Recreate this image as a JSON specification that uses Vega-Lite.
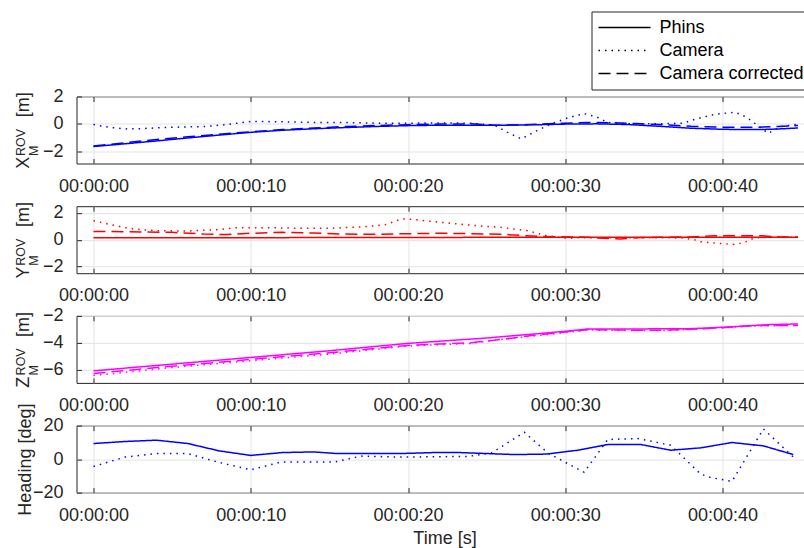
{
  "$schema": "https://vega.github.io/schema/vega-lite/v6.json",
  "background": "white",
  "padding": {"left": 13.5, "top": 10.5, "right": 0, "bottom": 0},
  "bounds": "flush",
  "spacing": 42.7,
  "datasets": {
    "px": [
      {"t": 0, "v": -1.66, "s": "Phins"}, {"t": 2, "v": -1.46, "s": "Phins"}, {"t": 4, "v": -1.25, "s": "Phins"}, {"t": 6, "v": -1.03, "s": "Phins"}, {"t": 8, "v": -0.82, "s": "Phins"}, {"t": 10, "v": -0.62, "s": "Phins"}, {"t": 12, "v": -0.47, "s": "Phins"}, {"t": 14, "v": -0.36, "s": "Phins"}, {"t": 16, "v": -0.27, "s": "Phins"}, {"t": 18, "v": -0.19, "s": "Phins"}, {"t": 20, "v": -0.13, "s": "Phins"}, {"t": 22, "v": -0.1, "s": "Phins"}, {"t": 24, "v": -0.1, "s": "Phins"}, {"t": 26, "v": -0.1, "s": "Phins"}, {"t": 28, "v": -0.07, "s": "Phins"}, {"t": 30, "v": -0.02, "s": "Phins"}, {"t": 32, "v": 0.0, "s": "Phins"}, {"t": 34, "v": -0.05, "s": "Phins"}, {"t": 36, "v": -0.18, "s": "Phins"}, {"t": 38, "v": -0.32, "s": "Phins"}, {"t": 40, "v": -0.4, "s": "Phins"}, {"t": 42, "v": -0.42, "s": "Phins"}, {"t": 43, "v": -0.4, "s": "Phins"}, {"t": 44, "v": -0.35, "s": "Phins"}, {"t": 44.8, "v": -0.3, "s": "Phins"},
      {"t": 0, "v": -0.05, "s": "Camera"}, {"t": 1, "v": -0.25, "s": "Camera"}, {"t": 2, "v": -0.37, "s": "Camera"}, {"t": 3, "v": -0.35, "s": "Camera"}, {"t": 5, "v": -0.25, "s": "Camera"}, {"t": 7, "v": -0.2, "s": "Camera"}, {"t": 8.5, "v": -0.05, "s": "Camera"}, {"t": 10, "v": 0.18, "s": "Camera"}, {"t": 12, "v": 0.15, "s": "Camera"}, {"t": 14, "v": 0.1, "s": "Camera"}, {"t": 16, "v": 0.1, "s": "Camera"}, {"t": 18, "v": 0.05, "s": "Camera"}, {"t": 20, "v": 0.05, "s": "Camera"}, {"t": 22, "v": 0.06, "s": "Camera"}, {"t": 24, "v": 0.05, "s": "Camera"}, {"t": 25.5, "v": -0.1, "s": "Camera"}, {"t": 26.3, "v": -0.6, "s": "Camera"}, {"t": 27.2, "v": -1.1, "s": "Camera"}, {"t": 28.2, "v": -0.5, "s": "Camera"}, {"t": 29.1, "v": 0.0, "s": "Camera"}, {"t": 30.2, "v": 0.45, "s": "Camera"}, {"t": 31.2, "v": 0.75, "s": "Camera"}, {"t": 32, "v": 0.5, "s": "Camera"}, {"t": 32.7, "v": 0.1, "s": "Camera"}, {"t": 34, "v": 0.0, "s": "Camera"}, {"t": 36, "v": 0.0, "s": "Camera"}, {"t": 37.5, "v": 0.05, "s": "Camera"}, {"t": 38.3, "v": 0.35, "s": "Camera"}, {"t": 39.5, "v": 0.7, "s": "Camera"}, {"t": 40.8, "v": 0.85, "s": "Camera"}, {"t": 41.5, "v": 0.5, "s": "Camera"}, {"t": 42.1, "v": 0.0, "s": "Camera"}, {"t": 42.9, "v": -0.7, "s": "Camera"}, {"t": 43.7, "v": -0.2, "s": "Camera"}, {"t": 44.7, "v": -0.05, "s": "Camera"},
      {"t": 0, "v": -1.62, "s": "Camera corrected"}, {"t": 2, "v": -1.38, "s": "Camera corrected"}, {"t": 4, "v": -1.15, "s": "Camera corrected"}, {"t": 6, "v": -0.95, "s": "Camera corrected"}, {"t": 8, "v": -0.76, "s": "Camera corrected"}, {"t": 10, "v": -0.58, "s": "Camera corrected"}, {"t": 12, "v": -0.42, "s": "Camera corrected"}, {"t": 14, "v": -0.3, "s": "Camera corrected"}, {"t": 16, "v": -0.2, "s": "Camera corrected"}, {"t": 18, "v": -0.12, "s": "Camera corrected"}, {"t": 20, "v": -0.06, "s": "Camera corrected"}, {"t": 22, "v": -0.02, "s": "Camera corrected"}, {"t": 24, "v": 0.0, "s": "Camera corrected"}, {"t": 25.5, "v": -0.1, "s": "Camera corrected"}, {"t": 27, "v": -0.08, "s": "Camera corrected"}, {"t": 28.5, "v": -0.02, "s": "Camera corrected"}, {"t": 30, "v": 0.05, "s": "Camera corrected"}, {"t": 31.5, "v": 0.1, "s": "Camera corrected"}, {"t": 33, "v": 0.08, "s": "Camera corrected"}, {"t": 34.5, "v": 0.02, "s": "Camera corrected"}, {"t": 36, "v": -0.05, "s": "Camera corrected"}, {"t": 38, "v": -0.18, "s": "Camera corrected"}, {"t": 40, "v": -0.25, "s": "Camera corrected"}, {"t": 42, "v": -0.25, "s": "Camera corrected"}, {"t": 43.5, "v": -0.2, "s": "Camera corrected"}, {"t": 44.8, "v": -0.12, "s": "Camera corrected"}
    ],
    "py": [
      {"t": 0, "v": 0.15, "s": "Phins"}, {"t": 10, "v": 0.15, "s": "Phins"}, {"t": 20, "v": 0.17, "s": "Phins"}, {"t": 30, "v": 0.18, "s": "Phins"}, {"t": 40, "v": 0.18, "s": "Phins"}, {"t": 44.8, "v": 0.18, "s": "Phins"},
      {"t": 0, "v": 1.42, "s": "Camera"}, {"t": 1, "v": 1.15, "s": "Camera"}, {"t": 2, "v": 0.9, "s": "Camera"}, {"t": 3, "v": 0.75, "s": "Camera"}, {"t": 4, "v": 0.67, "s": "Camera"}, {"t": 6, "v": 0.65, "s": "Camera"}, {"t": 8, "v": 0.75, "s": "Camera"}, {"t": 9, "v": 0.9, "s": "Camera"}, {"t": 11, "v": 0.9, "s": "Camera"}, {"t": 13, "v": 0.85, "s": "Camera"}, {"t": 15, "v": 0.85, "s": "Camera"}, {"t": 17, "v": 0.95, "s": "Camera"}, {"t": 18.5, "v": 1.1, "s": "Camera"}, {"t": 19.6, "v": 1.55, "s": "Camera"}, {"t": 20.2, "v": 1.52, "s": "Camera"}, {"t": 21.6, "v": 1.35, "s": "Camera"}, {"t": 23.8, "v": 1.1, "s": "Camera"}, {"t": 25.9, "v": 0.92, "s": "Camera"}, {"t": 27.6, "v": 0.67, "s": "Camera"}, {"t": 28.8, "v": 0.3, "s": "Camera"}, {"t": 30.1, "v": 0.1, "s": "Camera"}, {"t": 31, "v": 0.15, "s": "Camera"}, {"t": 33, "v": 0.15, "s": "Camera"}, {"t": 36, "v": 0.15, "s": "Camera"}, {"t": 37.5, "v": 0.12, "s": "Camera"}, {"t": 38.2, "v": 0.0, "s": "Camera"}, {"t": 38.6, "v": -0.15, "s": "Camera"}, {"t": 39.5, "v": -0.25, "s": "Camera"}, {"t": 40.7, "v": -0.35, "s": "Camera"}, {"t": 41.3, "v": -0.25, "s": "Camera"}, {"t": 42, "v": 0.12, "s": "Camera"}, {"t": 43, "v": 0.2, "s": "Camera"}, {"t": 44.8, "v": 0.18, "s": "Camera"},
      {"t": 0, "v": 0.62, "s": "Camera corrected"}, {"t": 3, "v": 0.58, "s": "Camera corrected"}, {"t": 5, "v": 0.55, "s": "Camera corrected"}, {"t": 7, "v": 0.42, "s": "Camera corrected"}, {"t": 8.5, "v": 0.38, "s": "Camera corrected"}, {"t": 10, "v": 0.48, "s": "Camera corrected"}, {"t": 12, "v": 0.55, "s": "Camera corrected"}, {"t": 14, "v": 0.5, "s": "Camera corrected"}, {"t": 16, "v": 0.42, "s": "Camera corrected"}, {"t": 18, "v": 0.4, "s": "Camera corrected"}, {"t": 20, "v": 0.45, "s": "Camera corrected"}, {"t": 22, "v": 0.48, "s": "Camera corrected"}, {"t": 24, "v": 0.45, "s": "Camera corrected"}, {"t": 26, "v": 0.4, "s": "Camera corrected"}, {"t": 27.5, "v": 0.3, "s": "Camera corrected"}, {"t": 29, "v": 0.22, "s": "Camera corrected"}, {"t": 31, "v": 0.2, "s": "Camera corrected"}, {"t": 32.5, "v": 0.1, "s": "Camera corrected"}, {"t": 33.5, "v": 0.05, "s": "Camera corrected"}, {"t": 34.5, "v": 0.15, "s": "Camera corrected"}, {"t": 36, "v": 0.18, "s": "Camera corrected"}, {"t": 38, "v": 0.2, "s": "Camera corrected"}, {"t": 39.5, "v": 0.3, "s": "Camera corrected"}, {"t": 41, "v": 0.3, "s": "Camera corrected"}, {"t": 42.5, "v": 0.3, "s": "Camera corrected"}, {"t": 43.5, "v": 0.2, "s": "Camera corrected"}, {"t": 44.8, "v": 0.2, "s": "Camera corrected"}
    ],
    "pz": [
      {"t": 0, "v": -6.1, "s": "Phins"}, {"t": 5, "v": -5.6, "s": "Phins"}, {"t": 10, "v": -5.1, "s": "Phins"}, {"t": 15, "v": -4.6, "s": "Phins"}, {"t": 20, "v": -4.05, "s": "Phins"}, {"t": 25, "v": -3.65, "s": "Phins"}, {"t": 28, "v": -3.35, "s": "Phins"}, {"t": 30, "v": -3.15, "s": "Phins"}, {"t": 31.5, "v": -2.97, "s": "Phins"}, {"t": 35, "v": -2.97, "s": "Phins"}, {"t": 38, "v": -2.95, "s": "Phins"}, {"t": 40, "v": -2.85, "s": "Phins"}, {"t": 43, "v": -2.65, "s": "Phins"}, {"t": 44.8, "v": -2.6, "s": "Phins"},
      {"t": 0, "v": -6.45, "s": "Camera"}, {"t": 5, "v": -5.85, "s": "Camera"}, {"t": 10, "v": -5.35, "s": "Camera"}, {"t": 15, "v": -4.85, "s": "Camera"}, {"t": 20, "v": -4.25, "s": "Camera"}, {"t": 22, "v": -4.15, "s": "Camera"}, {"t": 24, "v": -4.05, "s": "Camera"}, {"t": 26, "v": -3.75, "s": "Camera"}, {"t": 28, "v": -3.5, "s": "Camera"}, {"t": 30, "v": -3.25, "s": "Camera"}, {"t": 31.5, "v": -3.05, "s": "Camera"}, {"t": 33, "v": -3.08, "s": "Camera"}, {"t": 36, "v": -3.1, "s": "Camera"}, {"t": 38, "v": -3.0, "s": "Camera"}, {"t": 40, "v": -2.88, "s": "Camera"}, {"t": 42, "v": -2.75, "s": "Camera"}, {"t": 44.8, "v": -2.7, "s": "Camera"},
      {"t": 0, "v": -6.3, "s": "Camera corrected"}, {"t": 5, "v": -5.75, "s": "Camera corrected"}, {"t": 10, "v": -5.25, "s": "Camera corrected"}, {"t": 15, "v": -4.75, "s": "Camera corrected"}, {"t": 20, "v": -4.2, "s": "Camera corrected"}, {"t": 22, "v": -4.1, "s": "Camera corrected"}, {"t": 24, "v": -4.0, "s": "Camera corrected"}, {"t": 26, "v": -3.75, "s": "Camera corrected"}, {"t": 28, "v": -3.45, "s": "Camera corrected"}, {"t": 30, "v": -3.2, "s": "Camera corrected"}, {"t": 31.5, "v": -3.02, "s": "Camera corrected"}, {"t": 33, "v": -3.05, "s": "Camera corrected"}, {"t": 36, "v": -3.08, "s": "Camera corrected"}, {"t": 38, "v": -3.0, "s": "Camera corrected"}, {"t": 40, "v": -2.88, "s": "Camera corrected"}, {"t": 42, "v": -2.72, "s": "Camera corrected"}, {"t": 44.8, "v": -2.72, "s": "Camera corrected"}
    ],
    "ph": [
      {"t": 0, "v": 9.3, "s": "Phins"}, {"t": 2, "v": 10.5, "s": "Phins"}, {"t": 4, "v": 11.3, "s": "Phins"}, {"t": 6, "v": 9.3, "s": "Phins"}, {"t": 8, "v": 4.9, "s": "Phins"}, {"t": 10, "v": 2.2, "s": "Phins"}, {"t": 12, "v": 3.9, "s": "Phins"}, {"t": 14, "v": 4.3, "s": "Phins"}, {"t": 15.5, "v": 3.3, "s": "Phins"}, {"t": 19.5, "v": 3.3, "s": "Phins"}, {"t": 21.6, "v": 3.9, "s": "Phins"}, {"t": 23.3, "v": 3.9, "s": "Phins"}, {"t": 26.8, "v": 2.7, "s": "Phins"}, {"t": 28.8, "v": 3.0, "s": "Phins"}, {"t": 30.8, "v": 5.3, "s": "Phins"}, {"t": 32.7, "v": 8.7, "s": "Phins"}, {"t": 34.8, "v": 8.7, "s": "Phins"}, {"t": 36.7, "v": 5.3, "s": "Phins"}, {"t": 38.6, "v": 6.7, "s": "Phins"}, {"t": 40.6, "v": 9.9, "s": "Phins"}, {"t": 42.6, "v": 7.9, "s": "Phins"}, {"t": 44.5, "v": 2.7, "s": "Phins"},
      {"t": 0, "v": -4.4, "s": "Camera"}, {"t": 2, "v": 1.2, "s": "Camera"}, {"t": 4, "v": 3.3, "s": "Camera"}, {"t": 6, "v": 3.3, "s": "Camera"}, {"t": 7.9, "v": -1.8, "s": "Camera"}, {"t": 10, "v": -6.4, "s": "Camera"}, {"t": 11.9, "v": -1.8, "s": "Camera"}, {"t": 15.3, "v": -1.8, "s": "Camera"}, {"t": 17, "v": 1.8, "s": "Camera"}, {"t": 19.5, "v": 1.2, "s": "Camera"}, {"t": 23.8, "v": 1.6, "s": "Camera"}, {"t": 25.3, "v": 3.6, "s": "Camera"}, {"t": 27.4, "v": 16, "s": "Camera"}, {"t": 28.9, "v": 3.6, "s": "Camera"}, {"t": 31.2, "v": -7.9, "s": "Camera"}, {"t": 32.7, "v": 11.7, "s": "Camera"}, {"t": 34.6, "v": 12.3, "s": "Camera"}, {"t": 36.7, "v": 8.3, "s": "Camera"}, {"t": 38.6, "v": -8.9, "s": "Camera"}, {"t": 39.2, "v": -10.9, "s": "Camera"}, {"t": 40.6, "v": -13.3, "s": "Camera"}, {"t": 42.6, "v": 18, "s": "Camera"}, {"t": 44.5, "v": 1.2, "s": "Camera"}
    ]
  },
  "vconcat": [
    {
      "width": 736, "height": 67,
      "data": {"name": "px"},
      "layer": [
        {
          "mark": {"type": "line", "color": "#0000FF"},
          "encoding": {
            "x": {"field": "t", "type": "quantitative", "scale": {"domain": [-1.08, 45.72], "nice": false, "zero": false},
                  "axis": {"values": [0, 10, 20, 30, 40], "labelExpr": "'00:00:' + (datum.value < 10 ? '0' : '') + datum.value",
                           "title": ["ROV", "M"], "titleFontSize": 12.5, "titleLineHeight": 12.5, "titleAngle": -90, "titleAlign": "left", "titleBaseline": "alphabetic", "titleX": -52, "titleY": -8}},
            "y": {"field": "v", "type": "quantitative", "scale": {"domain": [-2.9, 2], "nice": false, "zero": false},
                  "axis": {"values": [-2, 0, 2], "title": "X\u2003\u2003\u2009[m]", "titleAngle": -90, "titleAlign": "center", "titleBaseline": "alphabetic", "titleX": -48, "titleY": 33.5}},
            "strokeDash": {"field": "s", "type": "nominal",
                           "scale": {"domain": ["Phins", "Camera", "Camera corrected"], "range": [[1, 0], [1.5, 5], [12, 6]]},
                           "legend": {"orient": "none", "legendX": 515, "legendY": -85, "title": null, "direction": "vertical",
                                      "symbolType": "stroke", "symbolSize": 2704, "symbolStrokeWidth": 1, "symbolStrokeColor": "#000000",
                                      "clipHeight": 20, "rowPadding": 3, "padding": 6, "labelOffset": 8,
                                      "labelFont": "Liberation Sans", "labelFontSize": 18, "labelColor": "#000000",
                                      "strokeColor": "#262626", "fillColor": "#FFFFFF"}}
          }
        },
        {
          "mark": {"type": "rule", "opacity": 0},
          "encoding": {
            "x": {"field": "t", "type": "quantitative", "scale": {"domain": [-1.08, 45.72], "nice": false, "zero": false},
                  "axis": {"orient": "top", "values": [0, 10, 20, 30, 40], "labels": false, "grid": false, "title": null}}
          }
        }
      ],
      "resolve": {"axis": {"x": "independent"}}
    },
    {
      "width": 736, "height": 67,
      "data": {"name": "py"},
      "layer": [
        {
          "mark": {"type": "line", "color": "#FF0000"},
          "encoding": {
            "x": {"field": "t", "type": "quantitative", "scale": {"domain": [-1.08, 45.72], "nice": false, "zero": false},
                  "axis": {"values": [0, 10, 20, 30, 40], "labelExpr": "'00:00:' + (datum.value < 10 ? '0' : '') + datum.value",
                           "title": ["ROV", "M"], "titleFontSize": 12.5, "titleLineHeight": 12.5, "titleAngle": -90, "titleAlign": "left", "titleBaseline": "alphabetic", "titleX": -52, "titleY": -8}},
            "y": {"field": "v", "type": "quantitative", "scale": {"domain": [-2.5, 2.5], "nice": false, "zero": false},
                  "axis": {"values": [-2, 0, 2], "title": "Y\u2003\u2003\u2009[m]", "titleAngle": -90, "titleAlign": "center", "titleBaseline": "alphabetic", "titleX": -48, "titleY": 33.5}},
            "strokeDash": {"field": "s", "type": "nominal",
                           "scale": {"domain": ["Phins", "Camera", "Camera corrected"], "range": [[1, 0], [1.5, 5], [12, 6]]},
                           "legend": null}
          }
        },
        {
          "mark": {"type": "rule", "opacity": 0},
          "encoding": {
            "x": {"field": "t", "type": "quantitative", "scale": {"domain": [-1.08, 45.72], "nice": false, "zero": false},
                  "axis": {"orient": "top", "values": [0, 10, 20, 30, 40], "labels": false, "grid": false, "title": null}}
          }
        }
      ],
      "resolve": {"axis": {"x": "independent"}}
    },
    {
      "width": 736, "height": 67,
      "data": {"name": "pz"},
      "layer": [
        {
          "mark": {"type": "line", "color": "#FF00FF"},
          "encoding": {
            "x": {"field": "t", "type": "quantitative", "scale": {"domain": [-1.08, 45.72], "nice": false, "zero": false},
                  "axis": {"values": [0, 10, 20, 30, 40], "labelExpr": "'00:00:' + (datum.value < 10 ? '0' : '') + datum.value",
                           "title": ["ROV", "M"], "titleFontSize": 12.5, "titleLineHeight": 12.5, "titleAngle": -90, "titleAlign": "left", "titleBaseline": "alphabetic", "titleX": -52, "titleY": -8}},
            "y": {"field": "v", "type": "quantitative", "scale": {"domain": [-7, -2], "nice": false, "zero": false},
                  "axis": {"values": [-6, -4, -2], "title": "Z\u2003\u2003\u2009[m]", "titleAngle": -90, "titleAlign": "center", "titleBaseline": "alphabetic", "titleX": -48, "titleY": 33.5}},
            "strokeDash": {"field": "s", "type": "nominal",
                           "scale": {"domain": ["Phins", "Camera", "Camera corrected"], "range": [[1, 0], [1.5, 5], [12, 6]]},
                           "legend": null}
          }
        },
        {
          "mark": {"type": "rule", "opacity": 0},
          "encoding": {
            "x": {"field": "t", "type": "quantitative", "scale": {"domain": [-1.08, 45.72], "nice": false, "zero": false},
                  "axis": {"orient": "top", "values": [0, 10, 20, 30, 40], "labels": false, "grid": false, "title": null}}
          }
        }
      ],
      "resolve": {"axis": {"x": "independent"}}
    },
    {
      "width": 736, "height": 67,
      "data": {"name": "ph"},
      "layer": [
        {
          "mark": {"type": "line", "color": "#0000FF"},
          "encoding": {
            "x": {"field": "t", "type": "quantitative", "scale": {"domain": [-1.08, 45.72], "nice": false, "zero": false},
                  "axis": {"values": [0, 10, 20, 30, 40], "labelExpr": "'00:00:' + (datum.value < 10 ? '0' : '') + datum.value",
                           "title": "Time [s]", "titleBaseline": "alphabetic", "titleY": 51}},
            "y": {"field": "v", "type": "quantitative", "scale": {"domain": [-20, 20], "nice": false, "zero": false},
                  "axis": {"values": [-20, 0, 20], "title": "Heading [deg]", "titleAngle": -90, "titleAlign": "center", "titleBaseline": "alphabetic", "titleX": -46, "titleY": 33.5}},
            "strokeDash": {"field": "s", "type": "nominal",
                           "scale": {"domain": ["Phins", "Camera", "Camera corrected"], "range": [[1, 0], [1.5, 5], [12, 6]]},
                           "legend": null}
          }
        },
        {
          "mark": {"type": "rule", "opacity": 0},
          "encoding": {
            "x": {"field": "t", "type": "quantitative", "scale": {"domain": [-1.08, 45.72], "nice": false, "zero": false},
                  "axis": {"orient": "top", "values": [0, 10, 20, 30, 40], "labels": false, "grid": false, "title": null}}
          }
        }
      ],
      "resolve": {"axis": {"x": "independent"}}
    }
  ],
  "resolve": {"legend": {"strokeDash": "independent"}},
  "config": {
    "font": "Liberation Sans",
    "view": {"stroke": "#262626", "strokeWidth": 1},
    "line": {"strokeWidth": 1.5},
    "axis": {"domain": false, "grid": true, "gridColor": "#E3E3E3", "gridWidth": 1,
             "ticks": true, "tickColor": "#262626", "tickSize": -5, "tickWidth": 1,
             "labelFont": "Liberation Sans", "labelFontSize": 18, "labelColor": "#262626",
             "titleFont": "Liberation Sans", "titleFontSize": 18, "titleFontWeight": "normal", "titleColor": "#262626"},
    "axisX": {"labelPadding": 18.7, "labelFlush": false, "labelOverlap": false},
    "axisY": {"labelPadding": 18.5}
  }
}
